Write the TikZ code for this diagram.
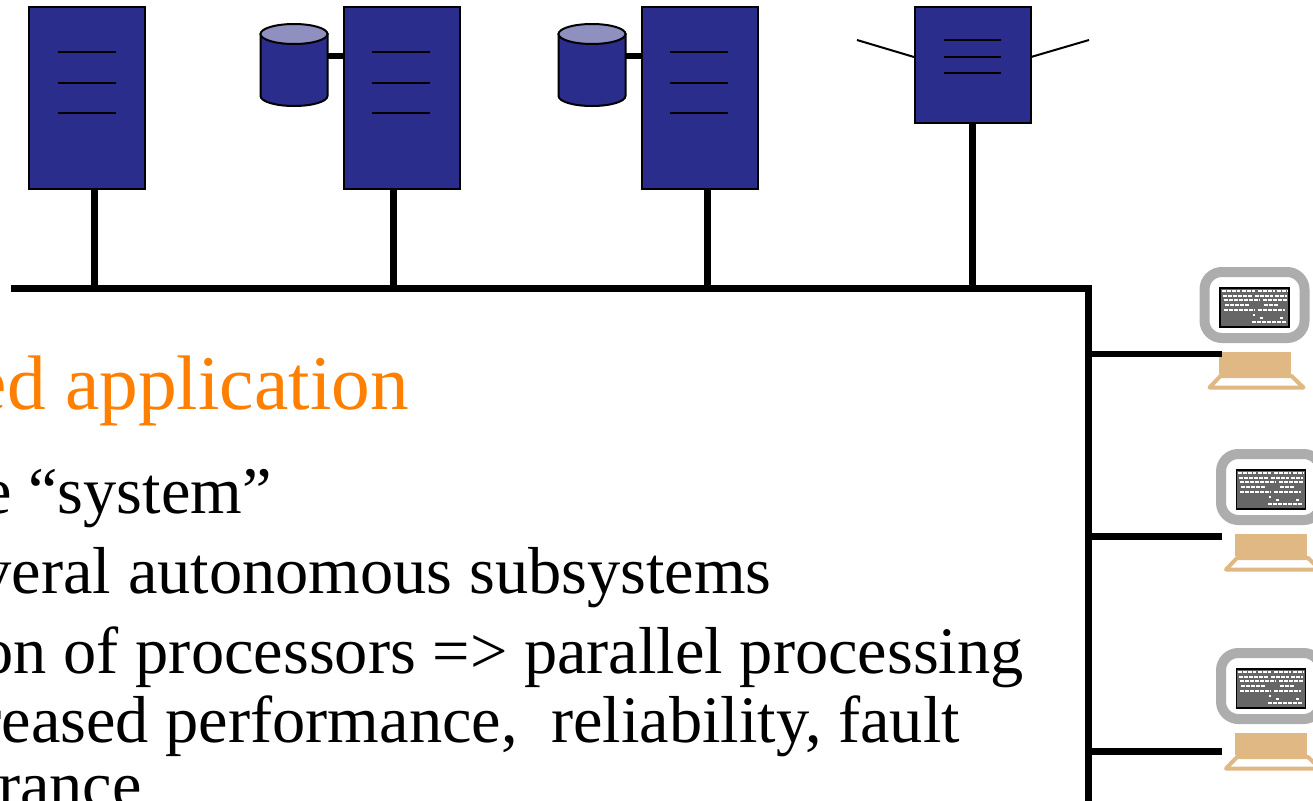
\documentclass[tikz,border=0pt]{standalone}
\usepackage{fontspec}
\setmainfont{Liberation Serif}
\definecolor{navy}{HTML}{2A2D8B}
\definecolor{navytop}{HTML}{8F90C0}
\definecolor{tan1}{HTML}{E0B883}
\definecolor{grey1}{HTML}{ADADAD}
\definecolor{orange1}{HTML}{FF8000}
\tikzset{
  x=0.75pt,y=-0.75pt,
  server/.style={draw=black,fill=navy,line width=1.4pt,inner sep=0pt,outer sep=0pt,minimum width=87pt,anchor=north west},
  tallserver/.style={server,minimum height=136.5pt},
  shortserver/.style={server,minimum height=87pt},
  slot/.style={line width=1.5pt,black},
  thick1/.style={line width=4.6pt,black},
  thin1/.style={line width=1.5pt,black},
  body/.style={anchor=base east,inner sep=0pt,font=\fontsize{49.8}{50}\selectfont},
  titletext/.style={anchor=base east,inner sep=0pt,text=orange1,font=\fontsize{58}{58}\selectfont},
  disk/.pic={
    \draw[fill=navy,line width=1.5pt] (0,10) -- (0,72) arc[start angle=180,end angle=0,x radius=33.5,y radius=10] -- (67,10) -- cycle;
    \draw[fill=navytop,line width=1.5pt] (33.5,10) ellipse[x radius=33.5,y radius=10];
  },
  computer/.pic={
    \draw[grey1,fill=white,line width=7.5pt,rounded corners=13pt] (5,5) rectangle (105,71);
    \draw[black,fill=black!60,line width=1.4pt] (20.5,21) rectangle (89.5,60);
    \foreach \y/\a/\b in {24/22/40,24/42/55,24/58/75,24/77/88,
                          29/23/52,29/55/73,29/75/87,33/24/60,33/63/87,
                          38/25/50,38/64/78,43/24/55,43/58/85,
                          48/53/55,51/60/63,51/80/83,55/52/87}
      \draw[white,line width=0.8pt,dash pattern=on 3pt off 0.8pt] (\a,\y) -- (\b,\y);
    \fill[tan1] (19,85) rectangle (91,107);
    \draw[tan1,fill=white,line width=3pt,line join=round] (10,120.5) -- (21,109) -- (92,109) -- (104,120.5) -- cycle;
  }
}
\begin{document}
\begin{tikzpicture}
\useasboundingbox (0,0) rectangle (1313,800);
\clip (0,0) rectangle (1313,800);
\fill[white] (0,0) rectangle (1313,800);

% text
\node[titletext] (t1) at (409,409) {ed application};
\node[body] (t2) at (272,513) {e “system”};
\node[body] (t3) at (772,593) {veral autonomous subsystems};
\node[body] (t4) at (1024,673) {on of processors => parallel processing};
\node[body] (t5) at (960,742) {reased performance,\ \ reliability, fault};
\node[body] (t6) at (142,807) {rance};

% bus
\coordinate (busL) at (15,288.5);
\coordinate (busC) at (1088.5,288.5);
\coordinate (busB) at (1088.5,800);
\coordinate (b1) at (94.5,288.5);
\coordinate (b2) at (393.5,288.5);
\coordinate (b3) at (707.5,288.5);
\coordinate (b4) at (972.5,288.5);
\draw[thick1,line width=5.4pt,line cap=rect] (busL) -- (busC) -- (busB);

% servers
\draw[thick1] (b1) -- (94.5,189);
\draw[thick1] (b2) -- (393.5,189);
\draw[thick1] (b3) -- (707.5,189);
\draw[thick1] (b4) -- (972.5,123);
\node[tallserver] (s1) at (28.7,7.3) {};
\node[tallserver] (s2) at (343.7,7.3) {};
\node[tallserver] (s3) at (641.7,7.3) {};
\node[shortserver] (s4) at (914.7,7.3) {};

% slots
\foreach \x in {58,372,670}
  \foreach \y in {52,83,113}
    \draw[slot] (\x,\y) -- (\x+58,\y);
\foreach \y in {40,56.5,73}
  \draw[slot] (944,\y) -- (1001,\y);

% disks
\coordinate (d1) at (327,56);
\coordinate (d2) at (625,56);
\draw[thick1] (d1) -- (d1 -| s2.west);
\draw[thick1] (d2) -- (d2 -| s3.west);
\pic at (260.5,24) {disk};
\pic at (558.5,24) {disk};

% antenna lines
\coordinate (w1) at (857,40);
\coordinate (w2) at (1089,40);
\coordinate (w1e) at (914,57);
\coordinate (w2e) at (1031,57);
\draw[thin1] (w1) -- (w1e);
\draw[thin1] (w2) -- (w2e);

% computers
\pic at (1199.5,267) {computer};
\pic at (1216,449) {computer};
\pic at (1216,648) {computer};

% terminal links
\coordinate (c1) at (1222,354);
\coordinate (c2) at (1222,536.5);
\coordinate (c3) at (1222,751.5);
\draw[thick1] (c1) -- (c1 -| busC);
\draw[thick1] (c2) -- (c2 -| busC);
\draw[thick1] (c3) -- (c3 -| busC);
\end{tikzpicture}
\end{document}
